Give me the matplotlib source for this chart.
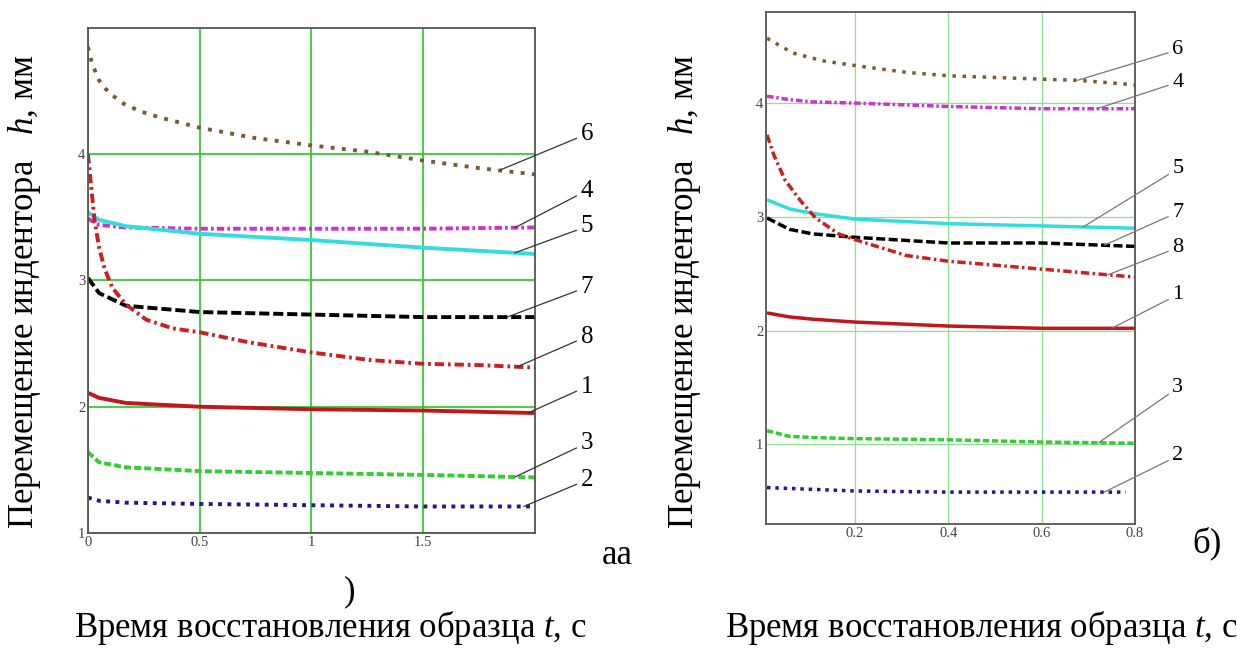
import numpy as np
import matplotlib
matplotlib.use("Agg")
import matplotlib.pyplot as plt

plt.rcParams["font.family"] = ["Liberation Serif", "DejaVu Serif"]
plt.rcParams["mathtext.fontset"] = "custom"
plt.rcParams["mathtext.rm"] = "Liberation Serif"
plt.rcParams["mathtext.it"] = "Liberation Serif:italic"

# ---- panel a (t = 0 .. 2 s) ----
T6_A = [0.0, 0.018, 0.048, 0.078, 0.107, 0.16, 0.234, 0.324, 0.413, 0.5, 0.622, 0.742, 1.0, 1.25, 1.5, 1.75, 2.0]
H6_A = [4.85, 4.72, 4.59, 4.52, 4.47, 4.40, 4.34, 4.29, 4.25, 4.21, 4.17, 4.13, 4.07, 4.02, 3.95, 3.89, 3.84]
T8_A = [0.0, 0.014, 0.03, 0.05, 0.075, 0.11, 0.17, 0.26, 0.38, 0.5, 0.72, 1.0, 1.26, 1.5, 1.75, 2.0]
H8_A = [4.0, 3.75, 3.47, 3.26, 3.09, 2.94, 2.81, 2.69, 2.62, 2.59, 2.51, 2.43, 2.37, 2.34, 2.33, 2.31]
T_A = [0.0, 0.05, 0.17, 0.5, 1.0, 1.5, 2.0]
H5_A = [3.54, 3.48, 3.43, 3.37, 3.32, 3.26, 3.21]
H4_A = [3.49, 3.44, 3.42, 3.41, 3.41, 3.41, 3.42]
H7_A = [3.02, 2.90, 2.80, 2.75, 2.73, 2.71, 2.71]
H1_A = [2.11, 2.07, 2.03, 2.00, 1.98, 1.97, 1.95]
H3_A = [1.64, 1.56, 1.52, 1.49, 1.475, 1.46, 1.44]
H2_A = [1.28, 1.255, 1.24, 1.23, 1.22, 1.21, 1.21]

# ---- panel b (t = 0.01 .. 0.8 s) ----
T6_B = [0.012, 0.067, 0.133, 0.2, 0.31, 0.4, 0.6, 0.68, 0.8]
H6_B = [4.57, 4.44, 4.37, 4.33, 4.27, 4.24, 4.21, 4.20, 4.16]
T8_B = [0.012, 0.027, 0.051, 0.084, 0.116, 0.165, 0.2, 0.31, 0.4, 0.6, 0.8]
H8_B = [3.72, 3.54, 3.32, 3.14, 2.99, 2.85, 2.80, 2.66, 2.61, 2.54, 2.47]
T_B = [0.012, 0.06, 0.11, 0.2, 0.4, 0.6, 0.8]
H4_B = [4.06, 4.03, 4.01, 4.00, 3.97, 3.95, 3.95]
H5_B = [3.15, 3.07, 3.03, 2.98, 2.94, 2.92, 2.90]
H7_B = [2.99, 2.89, 2.85, 2.82, 2.77, 2.77, 2.74]
H1_B = [2.155, 2.12, 2.10, 2.075, 2.04, 2.02, 2.02]
H3_B = [1.12, 1.07, 1.06, 1.05, 1.04, 1.02, 1.01]
T2_B = [0.012, 0.2, 0.4, 0.6, 0.78]
H2_B = [0.62, 0.59, 0.58, 0.58, 0.58]

LABELS = ["1", "2", "3", "4", "5", "6", "7", "8"]

STYLE = {
    "1": dict(color="#c0161c", ls="-"),
    "2": dict(color="#1a1a8c", ls=(0, (1, 1.4))),
    "3": dict(color="#33cc33", ls=(0, (1.8, 0.8))),
    "4": dict(color="#cc33cc", ls=(0, (1.9, 0.8, 0.7, 0.8))),
    "5": dict(color="#33dddd", ls="-"),
    "6": dict(color="#7a5a30", ls=(0, (1, 1.9))),
    "7": dict(color="black", ls=(0, (2.6, 1.0))),
    "8": dict(color="#cc2020", ls=(0, (2.4, 1.0, 0.7, 1.0))),
}

series_a = {"1": (T_A, H1_A), "2": (T_A, H2_A), "3": (T_A, H3_A), "4": (T_A, H4_A),
            "5": (T_A, H5_A), "6": (T6_A, H6_A), "7": (T_A, H7_A), "8": (T8_A, H8_A)}
series_b = {"1": (T_B, H1_B), "2": (T2_B, H2_B), "3": (T_B, H3_B), "4": (T_B, H4_B),
            "5": (T_B, H5_B), "6": (T6_B, H6_B), "7": (T_B, H7_B), "8": (T8_B, H8_B)}

# leader: (anchor t on curve, label y in axes fraction)
lead_a = {"6": (1.84, 0.79), "4": (1.91, 0.678), "5": (1.91, 0.607), "7": (1.875, 0.487),
          "8": (1.92, 0.389), "1": (1.97, 0.29), "3": (1.91, 0.178), "2": (1.95, 0.105)}
lead_b = {"6": (0.677, 0.926), "4": (0.718, 0.863), "5": (0.689, 0.694), "7": (0.734, 0.609),
          "8": (0.742, 0.540), "1": (0.750, 0.448), "3": (0.722, 0.266), "2": (0.734, 0.133)}

fig = plt.figure(figsize=(12.37, 6.48), dpi=100)
ax_a = fig.add_axes([0.0711, 0.1775, 0.3614, 0.7793])
ax_b = fig.add_axes([0.6193, 0.1914, 0.2983, 0.790])


def draw(ax, series, leads, lw, gcol, glw, lsize, lcol):
    for k in LABELS:
        t, h = series[k]
        ax.plot(t, h, lw=lw, solid_capstyle="butt", **STYLE[k])
    ax.grid(True, color=gcol, lw=glw)
    ax.set_axisbelow(True)
    for s in ax.spines.values():
        s.set_color("#555555")
        s.set_linewidth(1.3)
    ax.tick_params(length=0, labelsize=10.5, labelcolor="#444444", pad=2)
    for k, (tx, fy) in leads.items():
        t, h = series[k]
        hy = np.interp(tx, t, h)
        ax.annotate(k, xy=(tx, hy), xycoords="data", xytext=(1.116, fy),
                    textcoords="axes fraction", ha="center", va="center",
                    fontsize=lsize, annotation_clip=False,
                    arrowprops=dict(arrowstyle="-", color=lcol, lw=0.9,
                                    shrinkA=1, shrinkB=0))


draw(ax_a, series_a, lead_a, 2.8, "#22c822", 1.2, 18, "#333333")
ax_a.set_xlim(0, 2.0)
ax_a.set_ylim(1, 5)
ax_a.set_xticks([0, 0.5, 1, 1.5])
ax_a.set_xticklabels(["0", "0.5", "1", "1.5"])
ax_a.set_yticks([1, 2, 3, 4])

draw(ax_b, series_b, lead_b, 2.5, "#8fe08f", 0.9, 16, "#777777")
ax_b.set_xlim(0.01, 0.8)
ax_b.set_ylim(0.3, 4.8)
ax_b.set_xticks([0.2, 0.4, 0.6, 0.8])
ax_b.set_xticklabels(["0.2", "0.4", "0.6", "0.8"])
ax_b.set_yticks([1, 2, 3, 4])

ylab = "Перемещение индентора   $h$, мм"
xlab = "Время восстановления образца $t$, с"
fig.text(25 / 1237, 1 - 292 / 648, ylab, rotation=90, ha="center", va="center", fontsize=25)
fig.text(685 / 1237, 1 - 292 / 648, ylab, rotation=90, ha="center", va="center", fontsize=25)
fig.text(330 / 1237, 1 - 637 / 648, xlab, ha="center", va="baseline", fontsize=25)
fig.text(981 / 1237, 1 - 637 / 648, xlab, ha="center", va="baseline", fontsize=25)
fig.text(617 / 1237, 1 - 555 / 648, "аа", ha="center", va="center", fontsize=25)
fig.text(350 / 1237, 1 - 592 / 648, ")", ha="center", va="center", fontsize=25)
fig.text(1207 / 1237, 1 - 543 / 648, "б)", ha="center", va="center", fontsize=25)

fig.savefig("out.png", dpi=100)
